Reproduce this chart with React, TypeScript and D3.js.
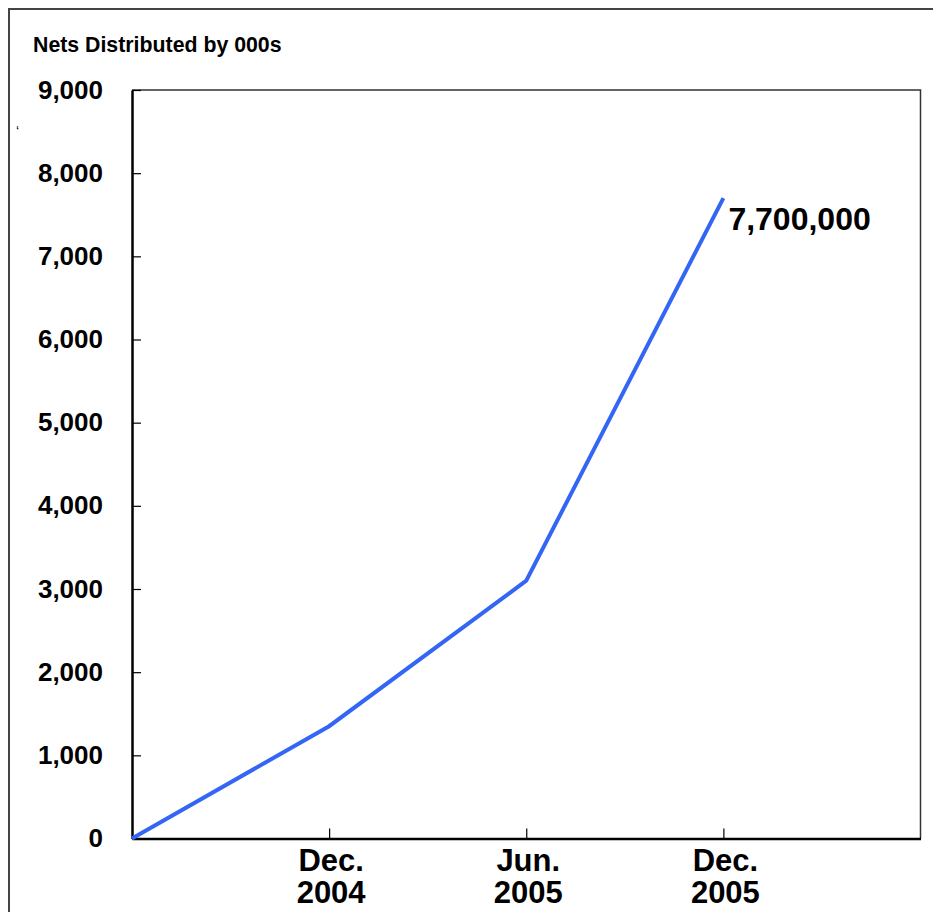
import React, { useEffect, useRef } from 'react';
import * as d3 from 'd3';

const periods = ['', 'Dec.\n2004', 'Jun.\n2005', 'Dec.\n2005'];
const netsDistributed = [0, 1350, 3100, 7700];
const yTicks = [0, 1000, 2000, 3000, 4000, 5000, 6000, 7000, 8000, 9000];
const chartTitle = 'Nets Distributed by 000s';
const endLabel = '7,700,000';

const App = () => {
    const ref = useRef<SVGSVGElement | null>(null);

    useEffect(() => {
        drawChart();
    }, []);

    const drawChart = () => {
        const svg = d3.select(ref.current);
        svg.selectAll('*').remove();

        const width = 933;
        const height = 912;
        const margin = { top: 90, right: 12.5, bottom: 73.5, left: 132 };
        const font = '"Liberation Sans", Arial, Helvetica, sans-serif';

        svg.attr('width', width).attr('height', height).style('font-family', font);

        // outer frame, cut off on the right and bottom
        svg.append('rect')
            .attr('x', 9)
            .attr('y', 9)
            .attr('width', width + 20)
            .attr('height', height + 20)
            .attr('fill', 'white')
            .attr('stroke', '#444')
            .attr('stroke-width', 2);

        const xScale = d3.scaleLinear()
            .domain([0, 4])
            .range([margin.left, width - margin.right]);

        const yScale = d3.scaleLinear()
            .domain([0, 9000])
            .range([height - margin.bottom, margin.top]);

        const x0 = xScale(0);
        const x1 = xScale(4);
        const y0 = yScale(0);
        const y1 = yScale(9000);

        // top and right frame of plot
        svg.append('path')
            .attr('d', `M${x0},${y1}H${x1}V${y0}`)
            .attr('fill', 'none')
            .attr('stroke', '#333')
            .attr('stroke-width', 1.5);

        // y axis: ticks pointing inward
        const yAxis = d3.axisRight(yScale)
            .tickValues(yTicks)
            .tickSize(9)
            .tickSizeOuter(0)
            .tickFormat(() => '');

        const yg = svg.append('g')
            .attr('transform', `translate(${x0}, 0)`)
            .call(yAxis);
        yg.select('.domain').attr('stroke', '#000').attr('stroke-width', 2.5);
        yg.selectAll('.tick line').attr('stroke', '#000').attr('stroke-width', 1.2);

        svg.append('g')
            .selectAll('text')
            .data(yTicks)
            .enter()
            .append('text')
            .attr('x', x0 - 29)
            .attr('y', d => yScale(d))
            .attr('dy', '0.33em')
            .attr('text-anchor', 'end')
            .attr('font-size', 26)
            .attr('font-weight', 'bold')
            .text(d => d3.format(',')(d));

        // x axis: ticks pointing upward
        const xAxis = d3.axisTop(xScale)
            .tickValues([1, 2, 3])
            .tickSize(10)
            .tickSizeOuter(0)
            .tickFormat(() => '');

        const xg = svg.append('g')
            .attr('transform', `translate(0, ${y0})`)
            .call(xAxis);
        xg.select('.domain').attr('stroke', '#000').attr('stroke-width', 2.5);
        xg.selectAll('.tick line').attr('stroke', '#000').attr('stroke-width', 1.2);

        const xLabels = svg.append('g')
            .selectAll('text')
            .data(periods.map((p, i) => ({ p, i })).filter(d => d.p))
            .enter()
            .append('text')
            .attr('text-anchor', 'middle')
            .attr('font-size', 31)
            .attr('font-weight', 'bold');

        xLabels.each(function (d) {
            const lines = d.p.split('\n');
            lines.forEach((line, k) => {
                d3.select(this)
                    .append('tspan')
                    .attr('x', xScale(d.i) + 2)
                    .attr('y', y0 + 32 + k * 32)
                    .text(line);
            });
        });

        // data line
        const line = d3.line<number>()
            .x((d, i) => xScale(i))
            .y(d => yScale(d));

        svg.append('path')
            .datum(netsDistributed)
            .attr('d', line)
            .attr('fill', 'none')
            .attr('stroke', '#3366f5')
            .attr('stroke-width', 4);

        const last = netsDistributed.length - 1;
        svg.append('text')
            .attr('x', xScale(last) + 5)
            .attr('y', yScale(netsDistributed[last]) + 32)
            .attr('font-size', 32)
            .attr('font-weight', 'bold')
            .text(endLabel);

        // title
        svg.append('text')
            .attr('x', 33)
            .attr('y', 52)
            .attr('font-size', 21.3)
            .attr('font-weight', 'bold')
            .text(chartTitle);

        // stray mark from the original slide
        svg.append('text')
            .attr('x', 16)
            .attr('y', 136)
            .attr('font-size', 14)
            .text('‘');
    };

    return (
        <div style={{ position: 'absolute', left: 0, top: 0 }}>
            <svg ref={ref}></svg>
        </div>
    );
};

export default App;
